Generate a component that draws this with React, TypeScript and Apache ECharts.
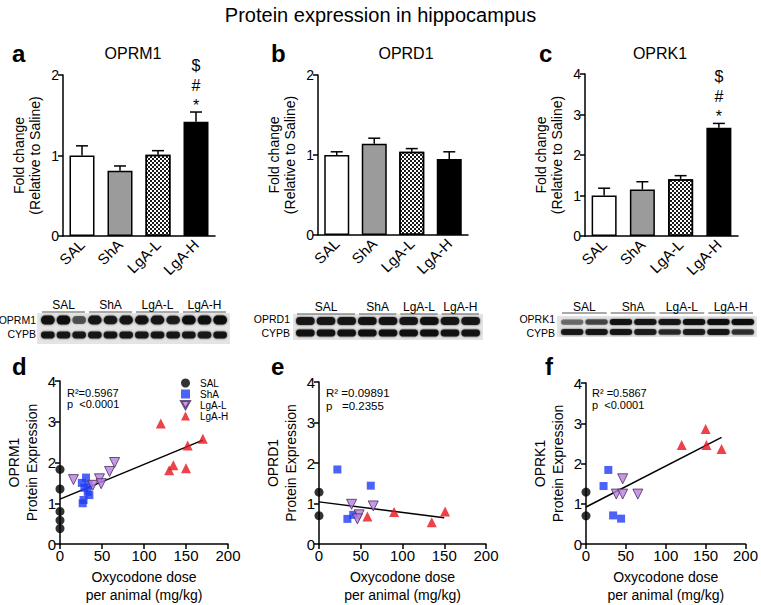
import React, { useEffect, useRef } from "react";
import * as echarts from "echarts";

const FONT = "'Liberation Sans', Arial, Helvetica, sans-serif";

// ---------- bar chart data (a, b, c) ----------
const groups = ["SAL", "ShA", "LgA-L", "LgA-H"];
const oprm1Mean = [1.0, 0.81, 1.01, 1.42];
const oprm1Err = [0.12, 0.06, 0.05, 0.12];
const oprd1Mean = [1.0, 1.14, 1.04, 0.95];
const oprd1Err = [0.04, 0.07, 0.04, 0.09];
const oprk1Mean = [1.0, 1.15, 1.4, 2.67];
const oprk1Err = [0.18, 0.19, 0.09, 0.11];
const oprm1Sig = ["", "", "", "*#$"];
const oprd1Sig = ["", "", "", ""];
const oprk1Sig = ["", "", "", "*#$"];

// ---------- scatter data (d, e, f): [dose, expression] ----------
const dSAL = [[0, 1.83], [0, 1.35], [0, 0.8], [0, 0.58], [0, 0.38]];
const dShA = [[31, 1.63], [26, 1.5], [34, 1.45], [29, 1.38], [33, 1.28], [35, 1.2], [28, 1.08], [27, 1.0]];
const dLgAL = [[16, 1.58], [39, 1.44], [47, 1.6], [49, 1.48], [59, 1.78], [65, 2.0]];
const dLgAH = [[120, 2.96], [130, 1.81], [135, 1.93], [150, 1.86], [152, 2.42], [170, 2.58]];
const dFit = [[0, 1.1], [170, 2.55]];

const eSAL = [[0, 1.28], [0, 0.7]];
const eShA = [[22, 1.84], [62, 1.44], [34, 0.62], [41, 0.72]];
const eLgAL = [[39, 0.98], [48, 0.72], [46, 0.62], [65, 0.94]];
const eLgAH = [[58, 0.68], [90, 0.79], [135, 0.54], [151, 0.8]];
const eFit = [[0, 1.04], [150, 0.65]];

const fSAL = [[0, 1.29], [0, 0.7]];
const fShA = [[28, 1.84], [22, 1.44], [34, 0.71], [44, 0.63]];
const fLgAL = [[46, 1.62], [38, 1.24], [46, 1.24], [65, 1.24]];
const fLgAH = [[120, 2.46], [150, 2.86], [151, 2.46], [170, 2.36]];
const fFit = [[0, 0.92], [170, 2.65]];

const statsD = ["R²=0.5967", "p  <0.0001"];
const statsE = ["R² =0.09891", "p   =0.2355"];
const statsF = ["R² =0.5867", "p  <0.0001"];

// ---------- western blot band intensities ----------
const blotALanes = [3, 3, 3, 3];
const blotAOprm1 = [0.95, 0.98, 0.6, 0.9, 0.88, 0.9, 0.92, 0.9, 0.85, 0.97, 0.95, 1.0];
const blotACypb = [0.92, 0.9, 0.9, 0.9, 0.92, 0.9, 0.9, 0.92, 0.9, 0.9, 0.88, 0.92];
const blotBLanes = [3, 2, 2, 2];
const blotBOprd1 = [0.9, 0.9, 0.9, 0.92, 0.92, 0.9, 0.95, 0.9, 0.9];
const blotBCypb = [0.95, 0.95, 0.95, 0.95, 0.95, 0.95, 0.97, 0.93, 0.93];
const blotCLanes = [2, 2, 2, 2];
const blotCOprk1 = [0.5, 0.65, 0.92, 0.9, 0.9, 0.95, 0.97, 1.0];
const blotCCypb = [0.88, 0.9, 0.9, 0.85, 0.78, 0.85, 0.9, 0.75];

const axisLine = { lineStyle: { color: "#000", width: 1.5 } };
const axisTick = { length: 5, lineStyle: { color: "#000", width: 1.5 } };
const axisLabel = { color: "#000", fontSize: 14, fontFamily: FONT };

const grids = [
  { left: 63, top: 75, width: 152, height: 161 },
  { left: 318, top: 75, width: 150, height: 160 },
  { left: 585, top: 74, width: 153, height: 162 },
  { left: 60, top: 381, width: 168, height: 167 },
  { left: 319, top: 382, width: 167, height: 167 },
  { left: 586, top: 383, width: 165, height: 164 },
];

const barStyles = [
  { color: "#ffffff" },
  { color: "#9b9b9b" },
  {
    color: "#ffffff",
    decal: {
      symbol: "rect",
      symbolSize: 1,
      color: "#1a1a1a",
      dashArrayX: [[2, 2], [0, 2, 2, 0]],
      dashArrayY: [2, 0],
      rotation: 0,
    },
  },
  { color: "#000000" },
];

function barSeries(idx: number, means: number[]) {
  return {
    type: "bar",
    xAxisIndex: idx,
    yAxisIndex: idx,
    barWidth: 25,
    z: 2,
    data: means.map((v, j) => ({
      value: v,
      itemStyle: { ...barStyles[j], borderColor: "#000", borderWidth: 1.5 },
    })),
  };
}

function errSeries(idx: number, means: number[], errs: number[], sig: string[]) {
  return {
    type: "custom",
    xAxisIndex: idx,
    yAxisIndex: idx,
    z: 5,
    silent: true,
    data: means.map((m, j) => [j, m, m + errs[j]]),
    renderItem: (params: any, api: any) => {
      const j = api.value(0);
      const base = api.coord([j, api.value(1)]);
      const top = api.coord([j, api.value(2)]);
      const st = { stroke: "#000", lineWidth: 1.5 };
      const children: any[] = [
        { type: "line", shape: { x1: top[0], y1: base[1], x2: top[0], y2: top[1] }, style: st },
        { type: "line", shape: { x1: top[0] - 6, y1: top[1], x2: top[0] + 6, y2: top[1] }, style: st },
      ];
      const s = sig[params.dataIndex] || "";
      const offs = [-7, -27, -47];
      s.split("").forEach((ch, k) => {
        children.push({
          type: "text",
          x: top[0],
          y: top[1] + offs[k],
          style: {
            text: ch,
            fontSize: 16,
            fontFamily: FONT,
            fill: "#000",
            align: "center",
            verticalAlign: "middle",
          },
        });
      });
      return { type: "group", children };
    },
  };
}

const scatterStyles: Record<string, any> = {
  SAL: { symbol: "circle", symbolSize: 9, itemStyle: { color: "#000" } },
  ShA: { symbol: "rect", symbolSize: 8, itemStyle: { color: "#1f3cf2" } },
  "LgA-L": {
    symbol: "triangle",
    symbolRotate: 180,
    symbolSize: 10,
    itemStyle: { color: "#b880e0", borderColor: "#4a2a60", borderWidth: 1 },
  },
  "LgA-H": { symbol: "triangle", symbolSize: 10, itemStyle: { color: "#e8131b" } },
};

function scatterSet(idx: number, sets: number[][][], fit: number[][]) {
  const out: any[] = [
    {
      type: "line",
      name: "fit",
      xAxisIndex: idx,
      yAxisIndex: idx,
      data: fit,
      showSymbol: false,
      symbol: "none",
      z: 1,
      lineStyle: { color: "#000", width: 1.5 },
    },
  ];
  groups.forEach((g, k) => {
    out.push({
      type: "scatter",
      name: g,
      xAxisIndex: idx,
      yAxisIndex: idx,
      z: 3,
      data: sets[k],
      ...scatterStyles[g],
    });
  });
  return out;
}

function txt(text: string, x: number, y: number, size: number, opts: any = {}) {
  return {
    type: "text",
    x,
    y,
    silent: true,
    style: {
      text,
      fontSize: size,
      fontFamily: FONT,
      fontWeight: opts.bold ? "bold" : "normal",
      fill: "#000",
      align: opts.align || "left",
      textAlign: opts.align || "left",
      verticalAlign: "middle",
      textVerticalAlign: "middle",
    },
  };
}

function blot(cfg: any) {
  const els: any[] = [];
  els.push({
    type: "rect",
    silent: true,
    shape: { x: cfg.bg[0], y: cfg.bg[1], width: cfg.bg[2], height: cfg.bg[3] },
    style: { fill: "#e4e4e4" },
  });
  const nLanes = cfg.lanes.reduce((a: number, b: number) => a + b, 0);
  const laneW = (cfg.x1 - cfg.x0) / nLanes;
  const rows = [cfg.top, cfg.bottom];
  rows.forEach((vals: number[], r: number) => {
    vals.forEach((v, i) => {
      const h = cfg.bandH[r] * (0.75 + 0.25 * v);
      els.push({
        type: "rect",
        silent: true,
        shape: {
          x: cfg.x0 + i * laneW + 1,
          y: cfg.bandY[r] - h / 2,
          width: laneW - 2,
          height: h,
          r: h / 2,
        },
        style: {
          fill: `rgba(15,15,15,${v})`,
          shadowBlur: 2,
          shadowColor: `rgba(15,15,15,${v * 0.8})`,
        },
      });
    });
  });
  els.push(txt(cfg.names[0], cfg.labelRight, cfg.labelY[0], 10.5, { align: "right" }));
  els.push(txt(cfg.names[1], cfg.labelRight, cfg.labelY[1], 10.5, { align: "right" }));
  let lane = 0;
  cfg.lanes.forEach((n: number, g: number) => {
    const gx0 = cfg.x0 + lane * laneW;
    const gx1 = cfg.x0 + (lane + n) * laneW;
    lane += n;
    els.push({
      type: "line",
      silent: true,
      shape: { x1: gx0 + 2, y1: cfg.ulY, x2: gx1 - 2, y2: cfg.ulY },
      style: { stroke: "#555", lineWidth: 1 },
    });
    els.push(txt(groups[g], (gx0 + gx1) / 2, cfg.glY, 12, { align: "center" }));
  });
  return els;
}

export default function App() {
  const ref = useRef<HTMLDivElement>(null);
  useEffect(() => {
    if (!ref.current) return;
    const chart = echarts.init(ref.current, null, { renderer: "svg" });

    const barX = (i: number) => ({
      type: "category",
      gridIndex: i,
      data: groups,
      axisLine,
      axisTick: { ...axisTick, alignWithLabel: true },
      axisLabel: { ...axisLabel, fontSize: 15, rotate: 45, margin: 6, interval: 0 },
    });
    const barY = (i: number, max: number) => ({
      type: "value",
      gridIndex: i,
      min: 0,
      max,
      interval: 1,
      axisLine: { ...axisLine, show: true },
      axisTick: { ...axisTick, show: true },
      axisLabel: { ...axisLabel, margin: 4 },
      splitLine: { show: false },
      name: "Fold change\n(Relative to Saline)",
      nameLocation: "middle",
      nameRotate: 90,
      nameGap: 20,
      nameTextStyle: { color: "#000", fontSize: 14, fontFamily: FONT, lineHeight: 16 },
    });
    const scX = (i: number) => ({
      type: "value",
      gridIndex: i,
      min: 0,
      max: 200,
      interval: 50,
      axisLine: { ...axisLine, show: true, onZero: false },
      axisTick: { ...axisTick, show: true },
      axisLabel: { ...axisLabel, fontSize: 15, margin: 4 },
      splitLine: { show: false },
      name: "Oxycodone dose\nper animal (mg/kg)",
      nameLocation: "middle",
      nameGap: 24,
      nameTextStyle: { color: "#000", fontSize: 14, fontFamily: FONT, lineHeight: 18 },
    });
    const scY = (i: number, gene: string) => ({
      type: "value",
      gridIndex: i,
      min: 0,
      max: 4,
      interval: 1,
      axisLine: { ...axisLine, show: true, onZero: false },
      axisTick: { ...axisTick, show: true },
      axisLabel: { ...axisLabel, fontSize: 15, margin: 4 },
      splitLine: { show: false },
      name: gene + "\nProtein Expression",
      nameLocation: "middle",
      nameRotate: 90,
      nameGap: 19,
      nameTextStyle: { color: "#000", fontSize: 14, fontFamily: FONT, lineHeight: 18 },
    });

    const graphic: any[] = [
      txt("a", 12, 53, 24, { bold: true }),
      txt("b", 271, 53, 24, { bold: true }),
      txt("c", 539, 53, 24, { bold: true }),
      txt("d", 12, 366, 24, { bold: true }),
      txt("e", 271, 366, 24, { bold: true }),
      txt("f", 545, 366, 24, { bold: true }),
      txt("OPRM1", 133, 53, 16, { align: "center" }),
      txt("OPRD1", 406, 53, 16, { align: "center" }),
      txt("OPRK1", 660, 53, 16, { align: "center" }),
      txt(statsD[0], 67, 393, 11),
      txt(statsD[1], 67, 404, 11),
      txt(statsE[0], 326, 393, 11.5),
      txt(statsE[1], 326, 406, 11.5),
      txt(statsF[0], 592, 393, 11),
      txt(statsF[1], 592, 405, 11),
      ...blot({
        bg: [37, 313, 193, 31],
        x0: 40,
        x1: 228,
        lanes: blotALanes,
        top: blotAOprm1,
        bottom: blotACypb,
        bandY: [320, 335],
        bandH: [9, 7],
        names: ["OPRM1", "CYPB"],
        labelRight: 36,
        labelY: [320, 334],
        glY: 305,
        ulY: 312,
      }),
      ...blot({
        bg: [293, 314, 190, 26],
        x0: 295,
        x1: 481,
        lanes: blotBLanes,
        top: blotBOprd1,
        bottom: blotBCypb,
        bandY: [321, 333],
        bandH: [8, 7],
        names: ["OPRD1", "CYPB"],
        labelRight: 290,
        labelY: [319, 333],
        glY: 307,
        ulY: 314,
      }),
      ...blot({
        bg: [557, 316, 200, 21],
        x0: 560,
        x1: 755,
        lanes: blotCLanes,
        top: blotCOprk1,
        bottom: blotCCypb,
        bandY: [322, 332],
        bandH: [6, 6],
        names: ["OPRK1", "CYPB"],
        labelRight: 555,
        labelY: [319, 333],
        glY: 307,
        ulY: 313,
      }),
    ];

    const option: any = {
      animation: false,
      backgroundColor: "#fff",
      textStyle: { fontFamily: FONT },
      title: {
        text: "Protein expression in hippocampus",
        left: "center",
        top: 0,
        textStyle: { fontSize: 20, fontWeight: "normal", color: "#000", fontFamily: FONT },
      },
      legend: {
        left: 180,
        top: 378,
        orient: "vertical",
        itemWidth: 9,
        itemHeight: 9,
        itemGap: 1,
        selectedMode: false,
        padding: 0,
        textStyle: { fontSize: 10, color: "#000", fontFamily: FONT, lineHeight: 9, padding: [0, 0, 0, 5] },
        data: [
          { name: "SAL", icon: "circle" },
          { name: "ShA", icon: "rect" },
          { name: "LgA-L", icon: "path://M0,0L10,0L5,9Z" },
          { name: "LgA-H", icon: "triangle" },
        ],
      },
      grid: grids,
      xAxis: [barX(0), barX(1), barX(2), scX(3), scX(4), scX(5)],
      yAxis: [
        barY(0, 2),
        barY(1, 2),
        barY(2, 4),
        scY(3, "OPRM1"),
        scY(4, "OPRD1"),
        scY(5, "OPRK1"),
      ],
      graphic,
      series: [
        barSeries(0, oprm1Mean),
        errSeries(0, oprm1Mean, oprm1Err, oprm1Sig),
        barSeries(1, oprd1Mean),
        errSeries(1, oprd1Mean, oprd1Err, oprd1Sig),
        barSeries(2, oprk1Mean),
        errSeries(2, oprk1Mean, oprk1Err, oprk1Sig),
        ...scatterSet(3, [dSAL, dShA, dLgAL, dLgAH], dFit),
        ...scatterSet(4, [eSAL, eShA, eLgAL, eLgAH], eFit),
        ...scatterSet(5, [fSAL, fShA, fLgAL, fLgAH], fFit),
      ],
    };
    chart.setOption(option);
    return () => chart.dispose();
  }, []);
  return (
    <div
      ref={ref}
      style={{ position: "fixed", left: 0, top: 0, width: 761, height: 605, background: "#fff" }}
    />
  );
}
